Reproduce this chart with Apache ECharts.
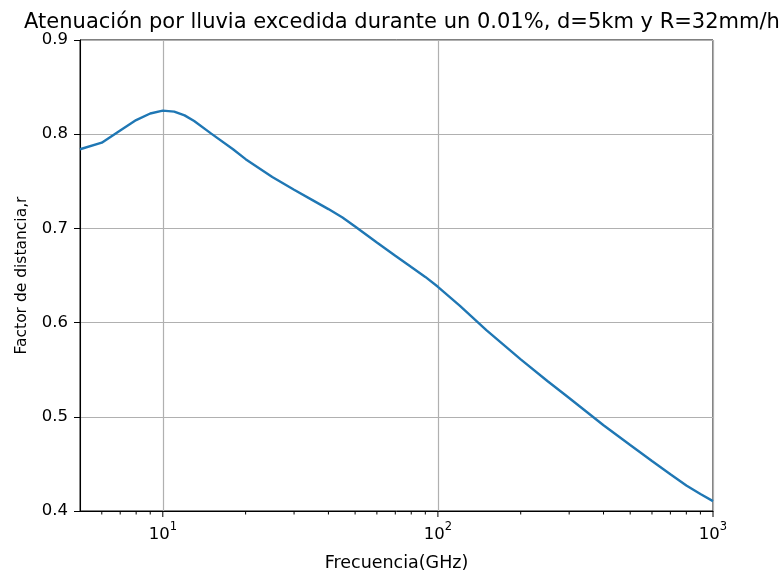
<!DOCTYPE html>
<html>
<head>
<meta charset="utf-8">
<script src="https://cdn.jsdelivr.net/npm/echarts@6/dist/echarts.min.js"></script>
<style>
  html, body { margin: 0; padding: 0; background: #fff; }
  #chart { width: 783px; height: 577px; }
</style>
</head>
<body>
<div id="chart"></div>
<script>
// Frequency (GHz) and distance factor r
const frequencies = [5, 6, 7, 8, 9, 10, 11, 12, 13, 15, 18, 20, 25, 30, 35, 40, 45, 50, 60, 70, 80, 90,
  100, 120, 150, 200, 250, 300, 400, 500, 600, 700, 800, 900, 1000];
const distanceFactor = [0.784, 0.791, 0.804, 0.815, 0.822, 0.825, 0.824, 0.820, 0.814, 0.8006, 0.784, 0.7735,
  0.7545, 0.741, 0.730, 0.7205, 0.7115, 0.702, 0.685, 0.671, 0.659, 0.6485,
  0.638, 0.618, 0.592, 0.561, 0.538, 0.520, 0.491, 0.470, 0.453, 0.439, 0.427, 0.418, 0.4105];

// Axis ticks
const yTicks = [0.4, 0.5, 0.6, 0.7, 0.8, 0.9];
const xMajorTicks = [10, 100, 1000];
const xMinorTicks = [6, 7, 8, 9, 20, 30, 40, 50, 60, 70, 80, 90, 200, 300, 400, 500, 600, 700, 800, 900];

const X_MIN = 5, X_MAX = 1000;
const Y_MIN = yTicks[0], Y_MAX = yTicks[yTicks.length - 1];

const FONT = 'DejaVu Sans';

const tickMarks = xMajorTicks.map(v => [v, 6]).concat(xMinorTicks.map(v => [v, 3.5]));

const chart = echarts.init(document.getElementById('chart'), null, { renderer: 'canvas' });

chart.setOption({
  animation: false,
  backgroundColor: '#fff',
  title: {
    text: 'Atenuación por lluvia excedida durante un 0.01%, d=5km y R=32mm/h',
    left: 397,
    textAlign: 'center',
    top: 7,
    textStyle: { fontFamily: FONT, fontSize: 21, fontWeight: 'normal', color: '#000' }
  },
  grid: {
    left: 80, right: 70, top: 40, bottom: 64,
    show: true, borderColor: '#000', borderWidth: 1, backgroundColor: 'transparent'
  },
  xAxis: {
    type: 'log',
    logBase: 10,
    min: X_MIN,
    max: X_MAX,
    name: 'Frecuencia(GHz)',
    nameLocation: 'middle',
    nameGap: 43,
    nameTextStyle: { fontFamily: FONT, fontSize: 17.5, color: '#000' },
    axisLine: { show: true, lineStyle: { color: '#000', width: 1 } },
    axisTick: { show: false },
    axisLabel: {
      margin: 10,
      fontFamily: FONT,
      color: '#000',
      formatter: function (v) {
        const e = Math.round(Math.log10(v));
        if (Math.abs(Math.pow(10, e) - v) > 1e-6 * v) return '';
        return '{b|10}{s|' + e + '}';
      },
      rich: {
        b: { fontFamily: FONT, fontSize: 16.5, color: '#000', lineHeight: 22, verticalAlign: 'bottom' },
        s: { fontFamily: FONT, fontSize: 11.5, color: '#000', lineHeight: 22, verticalAlign: 'top' }
      }
    },
    splitLine: { show: true, lineStyle: { color: '#b0b0b0', width: 1.2 } }
  },
  yAxis: {
    type: 'value',
    min: Y_MIN,
    max: Y_MAX,
    interval: 0.1,
    name: 'Factor de distancia,r',
    nameLocation: 'middle',
    nameGap: 50,
    nameTextStyle: { fontFamily: FONT, fontSize: 15.5, color: '#000' },
    axisLine: { show: true, lineStyle: { color: '#000', width: 1 } },
    axisTick: { show: true, length: 6, lineStyle: { color: '#000', width: 1 } },
    axisLabel: {
      margin: 12,
      fontFamily: FONT,
      fontSize: 16.5,
      color: '#000',
      formatter: v => v.toFixed(1)
    },
    splitLine: { show: true, lineStyle: { color: '#b0b0b0', width: 1.2 } }
  },
  series: [
    {
      type: 'line',
      data: frequencies.map((f, i) => [f, distanceFactor[i]]),
      showSymbol: false,
      smooth: false,
      lineStyle: { color: '#1f77b4', width: 2.4 },
      z: 3
    },
    {
      // tick marks along the logarithmic frequency axis
      type: 'custom',
      data: tickMarks,
      clip: false,
      silent: true,
      renderItem: function (params, api) {
        const p = api.coord([api.value(0), Y_MIN]);
        const len = api.value(1);
        return {
          type: 'line',
          shape: { x1: p[0], y1: p[1], x2: p[0], y2: p[1] + len },
          style: { stroke: '#000', lineWidth: 1 }
        };
      },
      z: 4
    }
  ]
});
</script>
</body>
</html>
